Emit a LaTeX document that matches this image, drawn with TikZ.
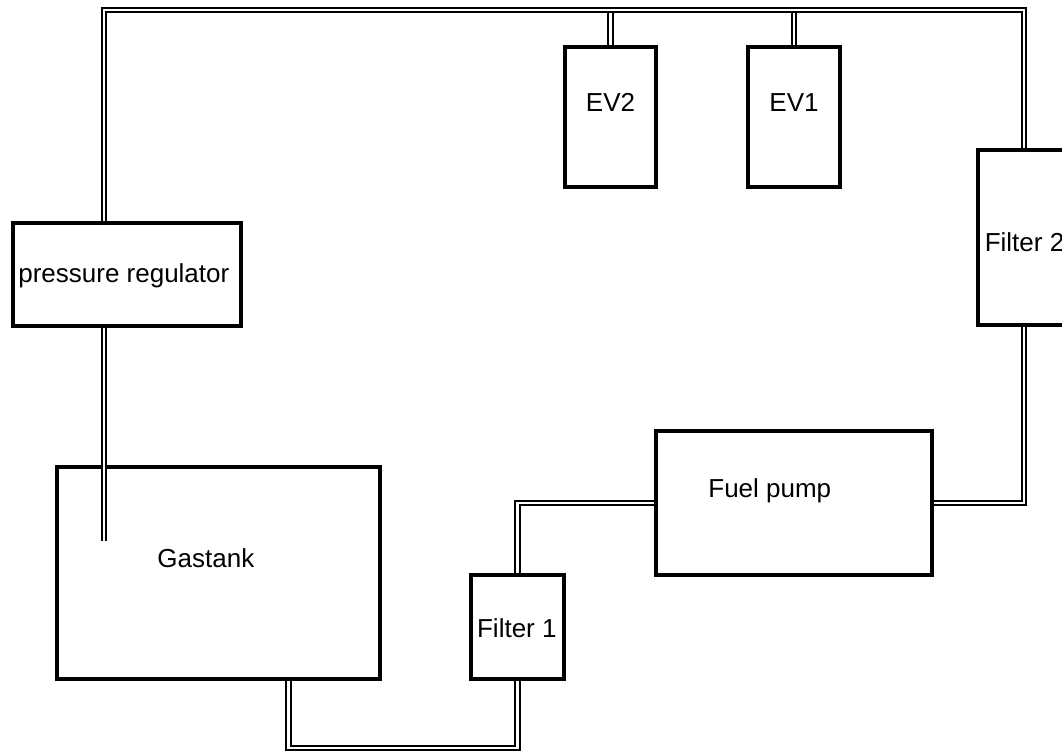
\documentclass[tikz,border=0pt]{standalone}
\usepackage{fontspec}
\setmainfont{Liberation Sans}
\begin{document}
\begin{tikzpicture}[
x=0.5pt,y=-0.5pt,
box/.style={draw,line width=2pt,inner sep=0pt},
pipe/.style={double,line width=0.9pt,double distance=1.4pt},
lbl/.style={font=\fontsize{13}{15}\selectfont,inner sep=0pt,anchor=base west},
lblc/.style={lbl,anchor=base}
]
\useasboundingbox (0,0) rectangle (1062,751);
\clip (0,0) rectangle (1062,751);
\node[box,minimum width=114.25pt,minimum height=51.5pt] (reg) at (126.75,274.5) {};
\node[box,minimum width=161.25pt,minimum height=106pt] (tank) at (218.25,573) {};
\node[box,minimum width=46.5pt,minimum height=52pt] (flt1) at (517.5,627) {};
\node[box,minimum width=138pt,minimum height=72pt] (pump) at (794,503) {};
\node[box,minimum width=46pt,minimum height=87.5pt] (flt2) at (1024,237.5) {};
\node[box,minimum width=45.5pt,minimum height=70pt] (ev2) at (610.5,117) {};
\node[box,minimum width=46pt,minimum height=70pt] (ev1) at (794,117) {};
% texts
\node[lbl] (regtxt) at ([xshift=-54.4pt,yshift=-3.75pt]reg.center) {pressure regulator};
\node[lbl] (tanktxt) at ([xshift=-30.6pt,yshift=3pt]tank.center) {Gastank};
\node[lbl] (flt1txt) at ([xshift=-20.4pt,yshift=-5.15pt]flt1.center) {Filter 1};
\node[lbl] (pumptxt) at ([xshift=-43pt,yshift=3pt]pump.center) {Fuel pump};
\node[lbl] (flt2txt) at ([xshift=-19.8pt,yshift=-6.75pt]flt2.center) {Filter 2};
\node[lblc] (ev2txt) at ([yshift=2.65pt]ev2.center) {EV2};
\node[lblc] (ev1txt) at ([yshift=2.65pt]ev1.center) {EV1};
% pipe corners
\coordinate (tl) at (104,10);
\coordinate (inlet) at (104,541);
\coordinate (bl) at (288.5,748);
\draw[pipe] (ev2.north) -- (ev2.north |- tl);
\draw[pipe] (ev1.north) -- (ev1.north |- tl);
\draw[pipe] (reg.north -| tl) -- (tl) -| (flt2.north);
\draw[pipe] (reg.south -| inlet) -- (inlet);
\draw[pipe] (tank.south -| bl) -- (bl) -| (flt1.south);
\draw[pipe] (flt1.north) |- (pump.west);
\draw[pipe] (pump.east) -| (flt2.south);
\end{tikzpicture}
\end{document}
